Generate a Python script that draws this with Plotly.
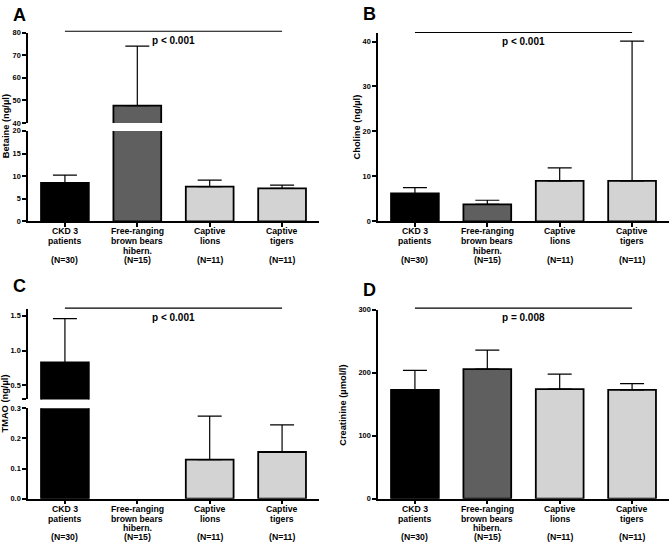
import plotly.graph_objects as go

W, H = 669, 548

groups = ["CKD 3 patients", "Free-ranging brown bears hibern.", "Captive lions", "Captive tigers"]
group_lines = [["CKD 3", "patients", ""],
               ["Free-ranging", "brown bears", "hibern."],
               ["Captive", "lions", ""],
               ["Captive", "tigers", ""]]
group_n = ["(N=30)", "(N=15)", "(N=11)", "(N=11)"]

betaine_mean = [8.5, 47.7, 7.7, 7.3]
betaine_sd = [1.7, 26.3, 1.4, 0.7]
choline_mean = [6.2, 3.8, 9.0, 9.0]
choline_sd = [1.3, 0.9, 2.9, 31.1]
tmao_mean = [0.83, None, 0.13, 0.155]
tmao_sd = [0.63, None, 0.144, 0.09]
creat_mean = [173, 206, 174, 173]
creat_sd = [31, 30, 24, 10]

p_texts = ["p < 0.001", "p < 0.001", "p < 0.001", "p = 0.008"]

bar_colors = ["#000000", "#5f5f5f", "#d3d3d3", "#d3d3d3"]
FONT = "Liberation Sans, Arial, sans-serif"


def fx(px):
    return px / W


def fy(py):
    return 1 - py / H


def bars(mean, sd, xa, ya):
    return go.Bar(x=groups, y=mean, xaxis=xa, yaxis=ya, width=0.66,
                  marker=dict(color=bar_colors, line=dict(color="black", width=1.8)),
                  error_y=dict(type="data", array=sd, arrayminus=[0] * len(sd), symmetric=False,
                               color="black", thickness=1.2, width=12),
                  showlegend=False, hoverinfo="skip")


fig = go.Figure()
# A: broken axis, same data drawn in the lower and upper segment
fig.add_trace(bars(betaine_mean, betaine_sd, "x", "y"))
fig.add_trace(bars(betaine_mean, betaine_sd, "x2", "y2"))
# B
fig.add_trace(bars(choline_mean, choline_sd, "x3", "y3"))
# C: broken axis
fig.add_trace(bars(tmao_mean, tmao_sd, "x4", "y4"))
fig.add_trace(bars(tmao_mean, tmao_sd, "x5", "y5"))
# D
fig.add_trace(bars(creat_mean, creat_sd, "x6", "y6"))

xbase = dict(range=[-0.51, 3.51], showline=True, linecolor="black", linewidth=1.5,
             ticks="outside", ticklen=4, tickwidth=1.5, tickcolor="black",
             showticklabels=False, showgrid=False, zeroline=False, fixedrange=True)
xhidden = dict(range=[-0.51, 3.51], visible=False, fixedrange=True)
ybase = dict(showline=True, linecolor="black", linewidth=1.5, ticks="outside", ticklen=4,
             tickwidth=1.5, tickcolor="black", showgrid=False, zeroline=False,
             tickfont=dict(size=7.4, family=FONT, color="black", weight="bold"),
             tickmode="array", fixedrange=True)

left = [fx(28), fx(319)]
right = [fx(378), 1.0]

fig.update_layout(
    width=W, height=H, margin=dict(l=0, r=0, t=0, b=0),
    paper_bgcolor="white", plot_bgcolor="white",
    font=dict(family=FONT, color="black", weight="bold"),
    xaxis=dict(xbase, domain=left, anchor="y"),
    yaxis=dict(ybase, domain=[fy(221), fy(129)], range=[0, 20], tickvals=[0, 5, 10, 15, 20], anchor="x"),
    xaxis2=dict(xhidden, domain=left, anchor="y2"),
    yaxis2=dict(ybase, domain=[fy(121), fy(29)], range=[40, 80], tickvals=[40, 50, 60, 70, 80], anchor="x2"),
    xaxis3=dict(xbase, domain=right, anchor="y3"),
    yaxis3=dict(ybase, domain=[fy(221), fy(29)], range=[0, 42], tickvals=[0, 10, 20, 30, 40], anchor="x3"),
    xaxis4=dict(xbase, domain=left, anchor="y4"),
    yaxis4=dict(ybase, domain=[fy(503), fy(411)], range=[0, 0.3], tickvals=[0, 0.1, 0.2, 0.3],
                ticktext=["0.0", "0.1", "0.2", "0.3"], anchor="x4"),
    xaxis5=dict(xhidden, domain=left, anchor="y5"),
    yaxis5=dict(ybase, domain=[fy(402), fy(310)], range=[0.3, 1.6], tickvals=[0.3, 0.5, 1.0, 1.5],
                ticktext=["", "0.5", "1.0", "1.5"], anchor="x5"),
    xaxis6=dict(xbase, domain=right, anchor="y6"),
    yaxis6=dict(ybase, domain=[fy(503), fy(311)], range=[0, 300], tickvals=[0, 100, 200, 300], anchor="x6"),
)

ann = []
# category labels, one annotation per line
for xa, rows, nrow in [("x", [231, 241, 250.7], 260.5), ("x3", [231, 241, 250.7], 260.5),
                       ("x4", [513.3, 523.3, 532.7], 541.7), ("x6", [513.3, 523.3, 532.7], 541.7)]:
    for i, lines in enumerate(group_lines):
        for line, ry in zip(lines, rows):
            if line:
                ann.append(dict(x=i, xref=xa, y=fy(ry), yref="paper", text=line, showarrow=False,
                                xanchor="center", yanchor="middle", font=dict(size=8.7)))
        ann.append(dict(x=i, xref=xa, y=fy(nrow), yref="paper", text=group_n[i], showarrow=False,
                        xanchor="center", yanchor="middle", font=dict(size=8.7)))

# y-axis titles
for title, tx, ty in [("Betaine (ng/µl)", 6.3, 124), ("Choline (ng/µl)", 356.5, 125),
                      ("TMAO (ng/µl)", 5.2, 406), ("Creatinine (µmol/l)", 343.5, 408)]:
    ann.append(dict(x=fx(tx), y=fy(ty), xref="paper", yref="paper", text=title, textangle=-90,
                    showarrow=False, xanchor="center", yanchor="middle", font=dict(size=9.3)))

# panel letters
for letter, lx, ly in [("A", 19.5, 11), ("B", 369, 10), ("C", 19, 287), ("D", 369, 291)]:
    ann.append(dict(x=fx(lx), y=fy(ly), xref="paper", yref="paper", text=letter, showarrow=False,
                    xanchor="center", yanchor="middle", font=dict(size=18)))

# p-value brackets
shapes = []
for xa, py, ptxt, ty in [("x", 27.7, p_texts[0], 37), ("x3", 29, p_texts[1], 38),
                         ("x4", 309.3, p_texts[2], 318.3), ("x6", 309.3, p_texts[3], 318.3)]:
    shapes.append(dict(type="line", xref=xa, yref="paper", x0=0, x1=3, y0=fy(py), y1=fy(py),
                       line=dict(color="black", width=1.2)))
    ann.append(dict(x=1.5, xref=xa, y=fy(ty), yref="paper", text=ptxt, showarrow=False,
                    xanchor="center", yanchor="middle", font=dict(size=10)))

fig.update_layout(annotations=ann, shapes=shapes)

# the page has a default 8px body margin; drop it so the figure fills the window exactly
fig.write_html("out.html", config={"displayModeBar": False},
               post_script="document.body.style.margin='0';")
